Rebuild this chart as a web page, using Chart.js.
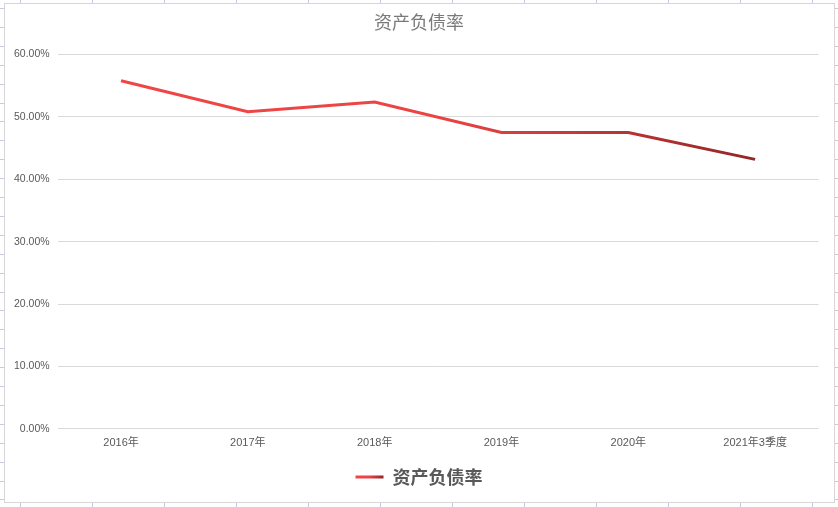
<!DOCTYPE html>
<html>
<head>
<meta charset="utf-8">
<script src="https://cdn.jsdelivr.net/npm/chart.js@4"></script>
<style>
  html, body { margin: 0; padding: 0; }
  body {
    width: 838px; height: 507px; position: relative; overflow: hidden;
    background-color: #fff;
    background-image:
      repeating-linear-gradient(to right, transparent 0, transparent 20px, #c6cbe0 20px, #c6cbe0 21px, transparent 21px, transparent 72px),
      repeating-linear-gradient(to bottom, transparent 0, transparent 8px, #c6cbe0 8px, #c6cbe0 9px, transparent 9px, transparent 18.9px);
  }
  #frame {
    position: absolute; left: 4px; top: 3px; width: 829px; height: 498px;
    background: #fff; border: 1px solid #d6d6d6;
  }
  #c { position: absolute; left: 0; top: 0; }
</style>
</head>
<body>
<div id="frame"></div>
<canvas id="c" width="838" height="507"></canvas>
<script>
const categories = ['2016年', '2017年', '2018年', '2019年', '2020年', '2021年3季度'];
const debtRatio = [55.8, 50.85, 52.4, 47.5, 47.5, 43.2];
const seriesName = '资产负债率';
const chartTitle = '资产负债率';
const yTicks = [0, 10, 20, 30, 40, 50, 60];

function lineGradient(ctx, x0, x1) {
  const g = ctx.createLinearGradient(x0, 0, x1, 0);
  g.addColorStop(0, '#f04646');
  g.addColorStop(0.5, '#ec4343');
  g.addColorStop(0.72, '#c63838');
  g.addColorStop(1, '#932727');
  return g;
}

const ctx = document.getElementById('c').getContext('2d');
new Chart(ctx, {
  type: 'line',
  data: {
    labels: categories,
    datasets: [{
      label: seriesName,
      data: debtRatio,
      borderWidth: 3,
      pointRadius: 0,
      pointHoverRadius: 0,
      tension: 0,
      borderColor: (c) => {
        const a = c.chart.chartArea;
        if (!a) return '#ef4444';
        const xs = c.chart.scales.x;
        return lineGradient(c.chart.ctx, xs.getPixelForValue(0), xs.getPixelForValue(categories.length - 1));
      },
      backgroundColor: '#ef4444'
    }]
  },
  options: {
    responsive: false,
    devicePixelRatio: 1,
    animation: false,
    layout: { padding: { left: 9.5, right: 9.5, top: 0, bottom: 11 } },
    plugins: {
      title: {
        display: true,
        text: chartTitle,
        color: '#7a7a7a',
        font: { family: '"Noto Sans CJK SC"', size: 18, weight: 'normal', lineHeight: 1.2 },
        padding: { top: 11, bottom: 22 }
      },
      legend: {
        display: true,
        position: 'bottom',
        labels: {
          boxWidth: 28,
          boxHeight: 3,
          color: '#595959',
          font: { family: '"Noto Sans CJK SC"', size: 18, weight: 'bold' },
          padding: 10,
          generateLabels: (chart) => {
            const g = lineGradient(chart.ctx, 355, 383);
            return chart.data.datasets.map((d, i) => ({
              text: d.label,
              fillStyle: g,
              strokeStyle: g,
              lineWidth: 0,
              hidden: false,
              datasetIndex: i,
              fontColor: '#595959'
            }));
          }
        }
      },
      tooltip: { enabled: false }
    },
    scales: {
      x: {
        type: 'category',
        offset: true,
        grid: { display: false, drawTicks: false },
        border: { display: false },
        ticks: {
          color: '#595959',
          font: { family: '"Liberation Sans", "Noto Sans CJK SC"', size: 11 },
          padding: 8,
          maxRotation: 0,
          autoSkip: false
        }
      },
      y: {
        min: 0,
        max: 60,
        afterFit: (s) => { s.width = 48.1; },
        afterBuildTicks: (s) => { s.ticks = yTicks.map(v => ({ value: v })); },
        grid: { color: '#d9d9d9', lineWidth: 1, drawTicks: false },
        border: { display: false },
        ticks: {
          color: '#595959',
          font: { family: '"Liberation Sans", "Noto Sans CJK SC"', size: 10.5 },
          padding: 8,
          callback: (v) => Number(v).toFixed(2) + '%'
        }
      },
      y2: {
        position: 'right',
        display: true,
        afterFit: (s) => { s.width = 10; },
        grid: { display: false, drawTicks: false },
        border: { display: false },
        ticks: { display: false }
      }
    }
  }
});
</script>
</body>
</html>
